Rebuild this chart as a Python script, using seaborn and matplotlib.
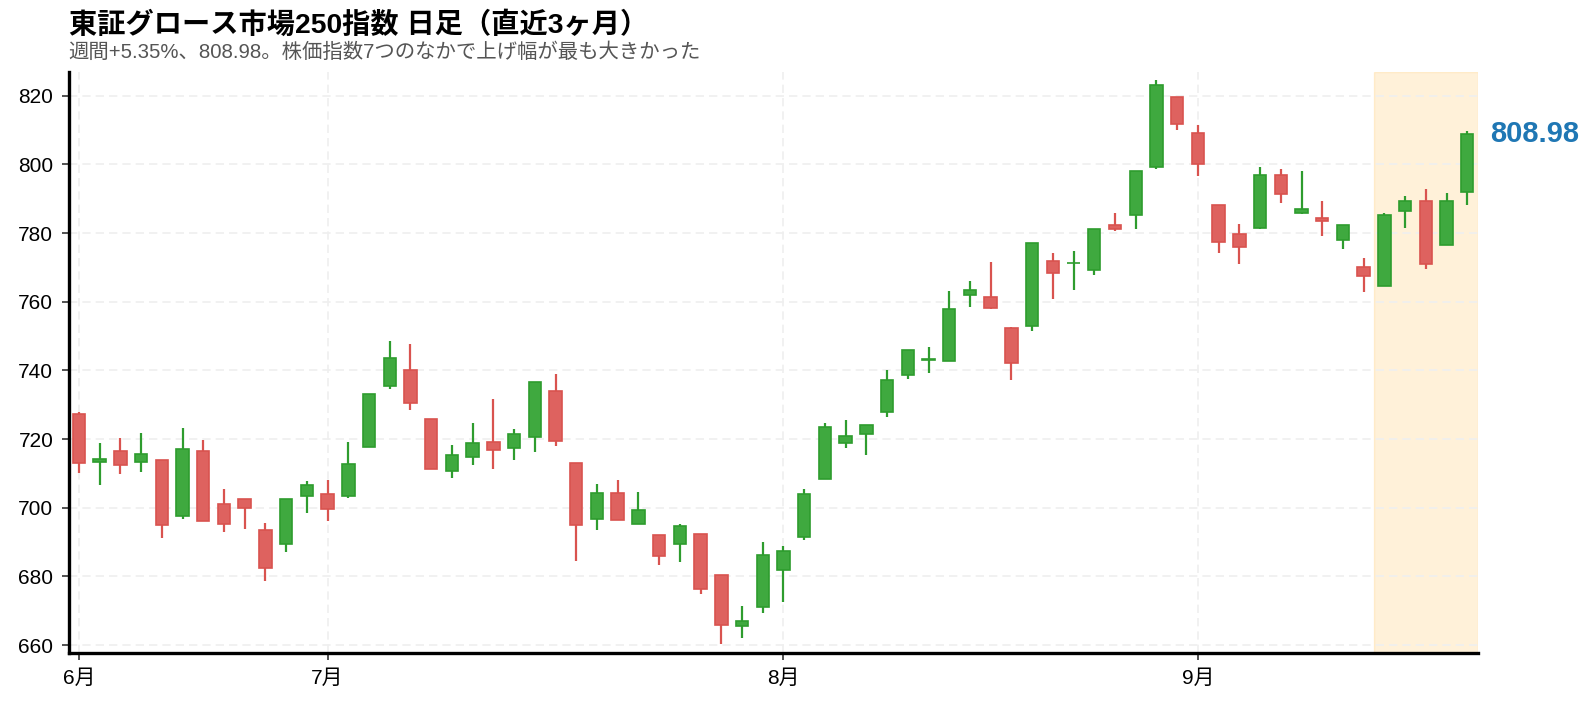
import matplotlib
matplotlib.use("Agg")
import matplotlib.pyplot as plt
import seaborn as sns
import pandas as pd

# daily OHLC, Tokyo Growth 250 (trading-day index)
opens = [727.2, 713.2, 716.5, 713.2, 713.9, 697.6, 716.5, 701.2, 702.6, 693.6,
         689.5, 703.4, 704.1, 703.4, 717.7, 735.4, 740.2, 725.9, 710.7, 714.8,
         719.2, 717.4, 720.6, 734.1, 712.9, 696.6, 704.2, 695.2, 692.2, 689.4,
         692.4, 680.5, 665.6, 671.2, 681.9, 691.4, 708.4, 718.9, 721.5, 727.9,
         738.7, 743.0, 742.8, 761.9, 761.5, 752.4, 752.8, 771.8, 771.2, 769.3,
         782.3, 785.3, 799.1, 819.6, 809.2, 788.2, 779.7, 781.5, 796.9, 785.9,
         784.4, 777.9, 770.2, 764.5, 786.3, 789.3, 776.4, 792.1]
highs = [728.0, 718.9, 720.4, 721.8, 713.9, 723.3, 719.8, 705.6, 702.6, 695.5,
         702.5, 707.9, 708.0, 719.0, 733.2, 748.5, 747.6, 725.9, 718.2, 724.6,
         731.8, 722.8, 736.7, 738.9, 712.9, 706.9, 708.0, 704.5, 692.2, 695.2,
         692.4, 680.5, 671.3, 689.9, 688.8, 705.5, 724.6, 725.5, 724.2, 740.0,
         745.8, 746.7, 763.0, 765.9, 771.7, 752.7, 777.1, 774.1, 774.9, 781.2,
         785.9, 798.1, 824.7, 819.6, 811.6, 788.2, 782.5, 799.1, 798.8, 798.2,
         789.4, 782.3, 772.6, 785.9, 790.9, 792.9, 791.7, 809.8]
lows = [710.1, 706.7, 709.9, 710.4, 691.3, 696.8, 696.0, 693.0, 693.9, 678.6,
        687.2, 698.6, 696.2, 702.7, 717.7, 734.5, 728.6, 711.3, 708.7, 712.3,
        711.4, 714.0, 716.3, 718.0, 684.6, 693.5, 696.4, 695.2, 683.4, 684.2,
        675.0, 660.2, 662.2, 669.2, 672.4, 690.6, 708.4, 717.3, 715.5, 726.3,
        737.6, 739.1, 742.8, 758.5, 757.8, 737.3, 751.5, 760.8, 763.4, 767.8,
        780.7, 781.2, 798.6, 810.0, 796.6, 774.2, 771.0, 781.2, 788.9, 785.6,
        779.1, 775.3, 762.8, 764.5, 781.4, 769.6, 776.4, 788.1]
closes = [712.9, 714.3, 712.3, 715.7, 695.0, 717.2, 696.0, 695.2, 699.8, 682.5,
          702.5, 706.7, 699.5, 712.6, 733.2, 743.7, 730.5, 711.3, 715.4, 718.9,
          716.8, 721.6, 736.7, 719.4, 694.9, 704.2, 696.4, 699.4, 686.0, 694.8,
          676.4, 665.9, 666.9, 686.1, 687.5, 703.9, 723.4, 721.0, 724.2, 737.3,
          745.8, 743.2, 758.0, 763.5, 758.1, 742.1, 777.1, 768.3, 771.4, 781.2,
          781.1, 798.1, 823.1, 811.9, 800.0, 777.3, 775.8, 796.9, 791.5, 787.0,
          783.6, 782.3, 767.6, 785.2, 789.3, 771.1, 789.3, 808.98]

month_labels = ["6月", "7月", "8月", "9月"]
month_pos = [0, 12, 34, 54]
last_week = [63, 67]  # highlighted final week (first, last index)

title = "東証グロース市場250指数 日足（直近3ヶ月）"
subtitle = "週間+5.35%、808.98。株価指数7つのなかで上げ幅が最も大きかった"

df = pd.DataFrame({"open": opens, "high": highs, "low": lows, "close": closes})
df["x"] = range(len(df))
df["up"] = df["close"] >= df["open"]
df["bottom"] = df[["open", "close"]].min(axis=1)
df["height"] = (df["close"] - df["open"]).abs().clip(lower=0.15)

UP_FACE, UP_EDGE = "#3fa93f", "#2e9c2e"
DN_FACE, DN_EDGE = "#de625f", "#d9534f"

sns.set_style("white")
plt.rcParams["font.family"] = ["Liberation Sans", "Noto Sans CJK JP", "DejaVu Sans"]

fig = plt.figure(figsize=(15.94, 7.03), dpi=100)
ax = fig.add_axes([0.043, 0.0707, 0.884, 0.8273])

ax.axvspan(last_week[0] - 0.5, last_week[1] + 0.5, color="orange", alpha=0.15,
           lw=1, zorder=0)

face = df["up"].map({True: UP_FACE, False: DN_FACE})
edge = df["up"].map({True: UP_EDGE, False: DN_EDGE})

ax.vlines(df["x"], df["low"], df["high"], colors=edge, linewidth=1.6, zorder=2)
ax.bar(df["x"], df["height"], bottom=df["bottom"], width=0.6,
       color=face, edgecolor=edge, linewidth=1.2, zorder=3)

ax.set_xlim(-0.5, len(df) - 0.5)
ax.set_ylim(657.6, 827.0)
ax.set_yticks(range(660, 821, 20))
ax.set_xticks(month_pos)
ax.set_xticklabels(month_labels)

ax.grid(True, linestyle=(0, (5, 3)), color="#efefef", linewidth=1.2, zorder=0)
ax.set_axisbelow(True)

sns.despine(ax=ax)
for side in ["left", "bottom"]:
    ax.spines[side].set_linewidth(2.4)
    ax.spines[side].set_color("black")

ax.tick_params(axis="both", which="both", bottom=True, left=True,
               direction="out", length=5, width=1.2, color="#333333",
               labelsize=15, pad=6, labelcolor="black")

ax.annotate(f"{closes[-1]:.2f}", xy=(1, closes[-1]),
            xycoords=("axes fraction", "data"), xytext=(12, 0),
            textcoords="offset pixels", va="center", ha="left",
            fontsize=21, fontweight="bold", color="#1f77b4")

fig.text(0.043, 0.9644, title, fontsize=20.3, fontweight="bold",
         ha="left", va="center", color="black")
fig.text(0.043, 0.926, subtitle, fontsize=14.7, ha="left", va="center",
         color="#555555")

fig.savefig("out.png", dpi=100)
plt.close(fig)
